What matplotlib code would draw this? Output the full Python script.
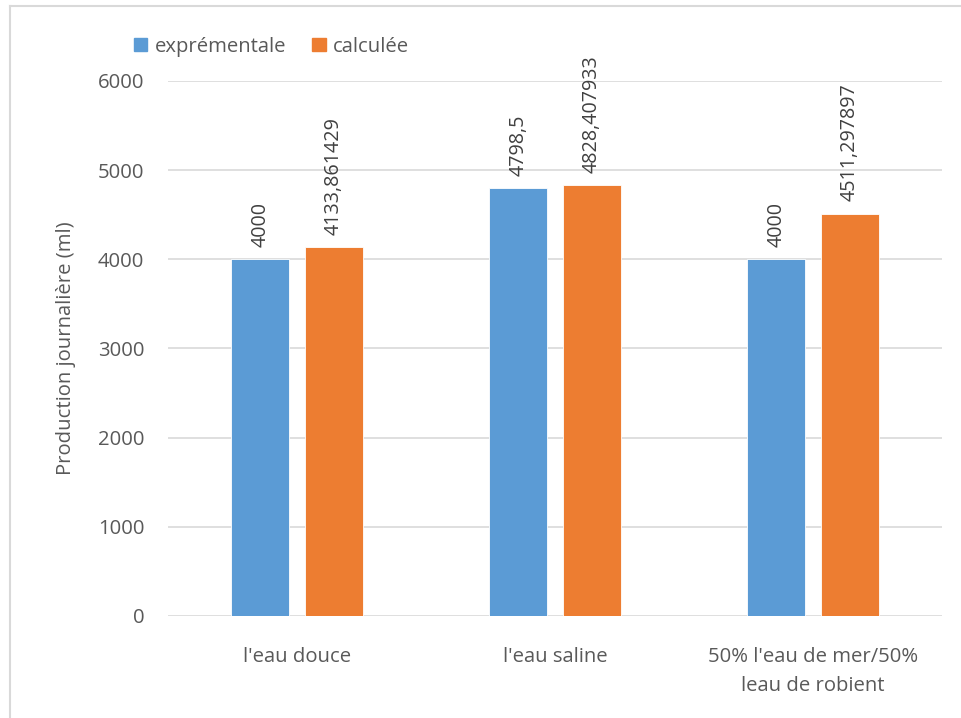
import numpy as np
import matplotlib.pyplot as plt
from matplotlib.patches import Patch
from matplotlib.lines import Line2D

plt.rcParams['font.family'] = ['Open Sans', 'DejaVu Sans']

# Daily production per water type
categories = ["l'eau douce", "l'eau saline", "50% l'eau de mer/50%\nleau de robient"]
experimental = [4000, 4798.5, 4000]
calculated = [4133.861429, 4828.407933, 4511.297897]
exp_labels = ["4000", "4798,5", "4000"]
calc_labels = ["4133,861429", "4828,407933", "4511,297897"]
yticks = [0, 1000, 2000, 3000, 4000, 5000, 6000]

blue = "#5B9BD5"
orange = "#ED7D31"
grid_col = "#D9D9D9"
text_col = "#595959"
label_col = "#404040"
fs = 14.6

fig = plt.figure(figsize=(9.61, 7.18), dpi=100)
ax = fig.add_axes([0.1748, 0.1421, 0.8054, 0.7451])

x = np.arange(len(categories))
w = 0.223
off = 0.1425
b1 = ax.bar(x - off, experimental, w, color=blue, edgecolor="white", linewidth=0.6, zorder=3)
b2 = ax.bar(x + off, calculated, w, color=orange, edgecolor="white", linewidth=0.6, zorder=3)

# rotated value labels above each bar
for bars, labels in [(b1, exp_labels), (b2, calc_labels)]:
    for bar, lab in zip(bars, labels):
        ax.annotate(lab, (bar.get_x() + bar.get_width() / 2, bar.get_height()),
                    xytext=(0, 9), textcoords="offset points",
                    rotation=90, ha="center", va="bottom",
                    fontsize=fs - 0.4, color=label_col)

ax.set_xlim(-0.5, 2.5)
ax.set_ylim(0, 6000)
ax.set_yticks(yticks)
ax.set_yticklabels([str(t) for t in yticks])
ax.set_xticks(x)
ax.set_xticklabels(categories, linespacing=1.6)
ax.tick_params(axis="both", length=0, labelsize=fs, colors=text_col)
ax.tick_params(axis="y", pad=17)
ax.tick_params(axis="x", pad=22)
ax.grid(axis="y", color=grid_col, linewidth=1.2, zorder=0)
for s in ax.spines.values():
    s.set_visible(False)

ax.set_ylabel("Production journalière (ml)", fontsize=fs, color=text_col, labelpad=16)

handles = [Patch(color=blue), Patch(color=orange)]
fig.legend(handles, ["exprémentale", "calculée"], loc="center left",
           bbox_to_anchor=(0.125, 0.935), ncol=2, frameon=False,
           fontsize=fs, labelcolor=text_col, handlelength=0.65, handleheight=0.65,
           handletextpad=0.35, columnspacing=1.3, borderpad=0.2)

# chart frame (left and top edges)
fig.add_artist(Line2D([0.0104, 0.0104], [0.0, 0.9916], color=grid_col, linewidth=1.5))
fig.add_artist(Line2D([0.0104, 1.0], [0.9916, 0.9916], color=grid_col, linewidth=1.5))

fig.savefig("out.png", dpi=100)
